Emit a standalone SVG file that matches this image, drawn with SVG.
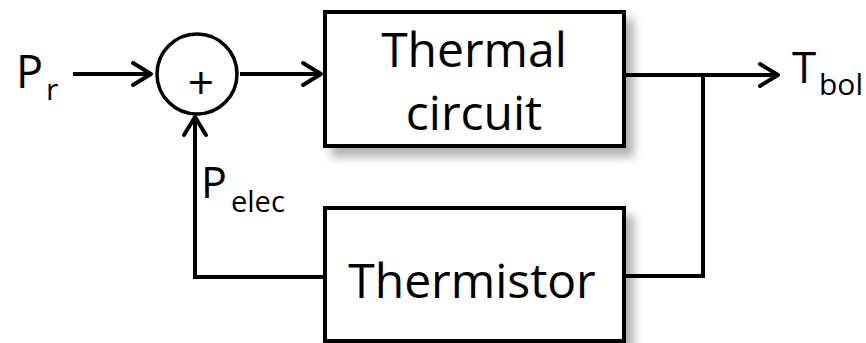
<svg xmlns="http://www.w3.org/2000/svg" width="866" height="343" viewBox="0 0 866 343">
<style>
.box{fill:#fff;stroke:#000;stroke-width:4}
.ln{fill:none;stroke:#000;stroke-width:4}
.t{font-family:"Open Sans","Noto Sans",sans-serif;fill:#000}
</style>
<defs>
<filter id="sh" x="-10%" y="-10%" width="130%" height="140%">
<feDropShadow dx="8" dy="9" stdDeviation="5" flood-color="#000" flood-opacity="0.3"/>
</filter>
<marker id="ah" markerUnits="userSpaceOnUse" markerWidth="30" markerHeight="30" viewBox="-22 -15 26 30" refX="0" refY="0" orient="auto">
<path d="M -18 -11 L 0 0 L -18 11" fill="none" stroke="#000" stroke-width="4" stroke-linecap="round" stroke-linejoin="round"/>
</marker>
</defs>
<rect width="866" height="343" fill="#fff"/>
<g id="connectors">
<line class="ln" x1="73" y1="74" x2="151" y2="74" marker-end="url(#ah)"/>
<line class="ln" x1="240" y1="74" x2="321" y2="74" marker-end="url(#ah)"/>
<line class="ln" x1="624" y1="75" x2="778" y2="75" marker-end="url(#ah)"/>
<polyline class="ln" points="624,276 703,276 703,75"/>
<polyline class="ln" points="325,277 195,277 195,117" marker-end="url(#ah)"/>
</g>
<g id="sum">
<circle cx="197" cy="74" r="40" fill="#fff" stroke="#000" stroke-width="3.5"/>
<text class="t" x="201" y="99" font-size="46" text-anchor="middle">+</text>
</g>
<g id="thermal">
<rect class="box" x="325" y="12" width="299" height="134" filter="url(#sh)"/>
<text class="t" x="474" y="67" font-size="48" text-anchor="middle">Thermal</text>
<text class="t" x="474" y="130" font-size="48" text-anchor="middle">circuit</text>
</g>
<g id="thermistor">
<rect class="box" x="325" y="208" width="299" height="133" filter="url(#sh)"/>
<text class="t" x="472" y="298" font-size="48" text-anchor="middle">Thermistor</text>
</g>
<g id="labels">
<text class="t" x="16" y="88" font-size="45">P<tspan x="46" y="100" font-size="30">r</tspan></text>
<text class="t" x="201" y="198" font-size="43">P<tspan x="231" y="212" font-size="29">elec</tspan></text>
<text class="t" x="792" y="83" font-size="44">T<tspan x="819" y="95" font-size="30">bol</tspan></text>
</g>
</svg>
